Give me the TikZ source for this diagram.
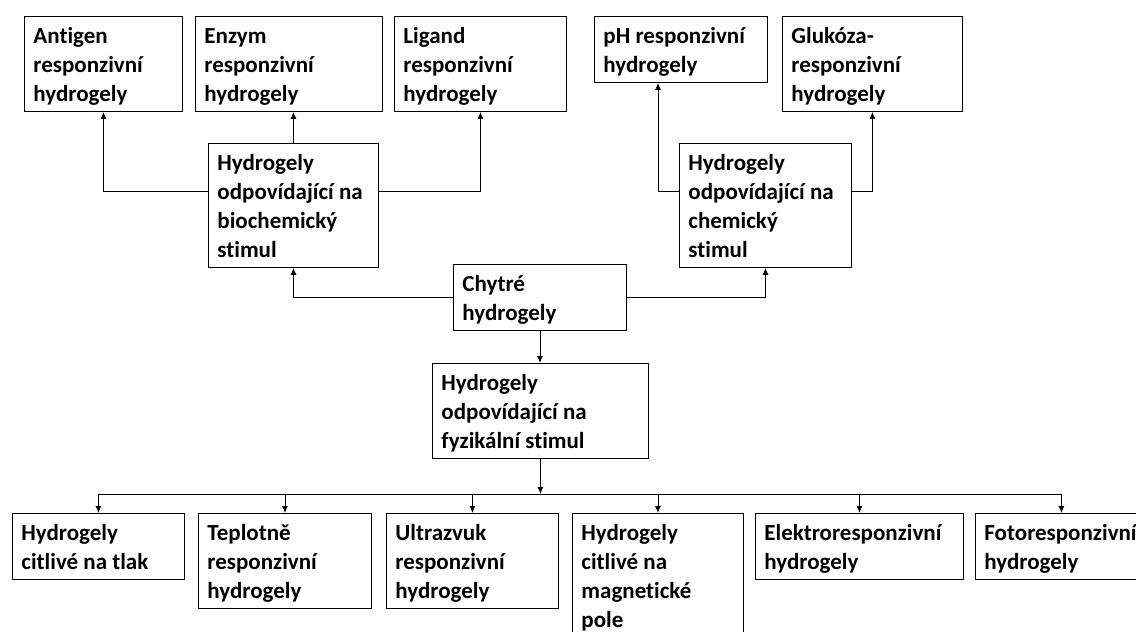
\documentclass[tikz,border=0pt]{standalone}
\usepackage{fontspec}
\setmainfont{Carlito}[Ligatures=NoCommon]
\usetikzlibrary{calc,positioning,arrows.meta}
\newcommand{\gelstrutbegin}{\rule{0pt}{25pt}}
\newcommand{\gelstrutend}{\rule[-8pt]{0pt}{8pt}}

\begin{document}
\begin{tikzpicture}[x=1pt,y=-1pt,line width=0.9pt,>={Latex[length=7pt,width=6pt]},
  every node/.style={draw,align=flush left,anchor=north west,inner xsep=9pt,inner ysep=2pt,
    font=\fontsize{23}{29}\selectfont\bfseries,
    execute at begin node=\gelstrutbegin,execute at end node=\gelstrutend},
  gel/.style={text width=#1}]
\clip (0,0) rectangle (1136,632);
\node[gel=140pt] (Antigen) at (24,16) {Antigen\\responzivní\\hydrogely};
\node[gel=169pt] (Enzym) at (195,16) {Enzym\\responzivní\\hydrogely};
\node[gel=154pt] (Ligand) at (394,16) {Ligand\\responzivní\\hydrogely};
\node[gel=155pt] (Ph) at (594,16) {pH responzivní\\hydrogely};
\node[gel=162pt] (Glukoza) at (782,16) {Glukóza-\\responzivní\\hydrogely};
\node[gel=152pt] (BiochemStimul) at (208,143) {Hydrogely\\odpovídající na\\biochemický\\stimul};
\node[gel=154pt] (ChemStimul) at (679,143) {Hydrogely\\odpovídající na\\chemický\\stimul};
\node[gel=155pt] (Chytre) at (453,264) {Chytré\\hydrogely};
\node[gel=198pt] (FyzStimul) at (432,363) {Hydrogely\\odpovídající na\\fyzikální stimul};
\node[gel=154pt] (Tlak) at (12,513) {Hydrogely\\citlivé na tlak};
\node[gel=155pt] (Teplota) at (198,513) {Teplotně\\responzivní\\hydrogely};
\node[gel=154pt] (Ultrazvuk) at (386,513) {Ultrazvuk\\responzivní\\hydrogely};
\node[gel=153pt] (Magnet) at (572,513) {Hydrogely\\citlivé na\\magnetické\\pole};
\node[gel=190pt] (Elektro) at (755,513) {Elektroresponzivní\\hydrogely};
\node[gel=154pt] (Foto) at (975,513) {Fotoresponzivní\\hydrogely};
\coordinate (TopLevel) at (0,191);
\coordinate (BusLevel) at (0,494);
\draw[->] (BiochemStimul.west |- TopLevel) -| (Antigen.south);
\draw[->] (BiochemStimul.north) -- (BiochemStimul.north |- Enzym.south);
\draw[->] (BiochemStimul.east |- TopLevel) -| (Ligand.south);
\draw[->] (ChemStimul.west |- TopLevel) -| ($(Ph.south west)+(64,0)$);
\draw[->] (ChemStimul.east |- TopLevel) -| (Glukoza.south);
\draw[->] (Chytre.west) -| (BiochemStimul.south);
\draw[->] (Chytre.east) -| (ChemStimul.south);
\draw[->] (Chytre.south) -- (Chytre.south |- FyzStimul.north);
\draw[->] (FyzStimul.south) -- (FyzStimul.south |- BusLevel);
\draw (Tlak.north |- BusLevel) -- (Foto.north |- BusLevel);
\foreach \g in {Tlak,Teplota,Ultrazvuk,Magnet,Elektro,Foto}
  \draw[->] (\g.north |- BusLevel) -- (\g.north);
\end{tikzpicture}
\end{document}
